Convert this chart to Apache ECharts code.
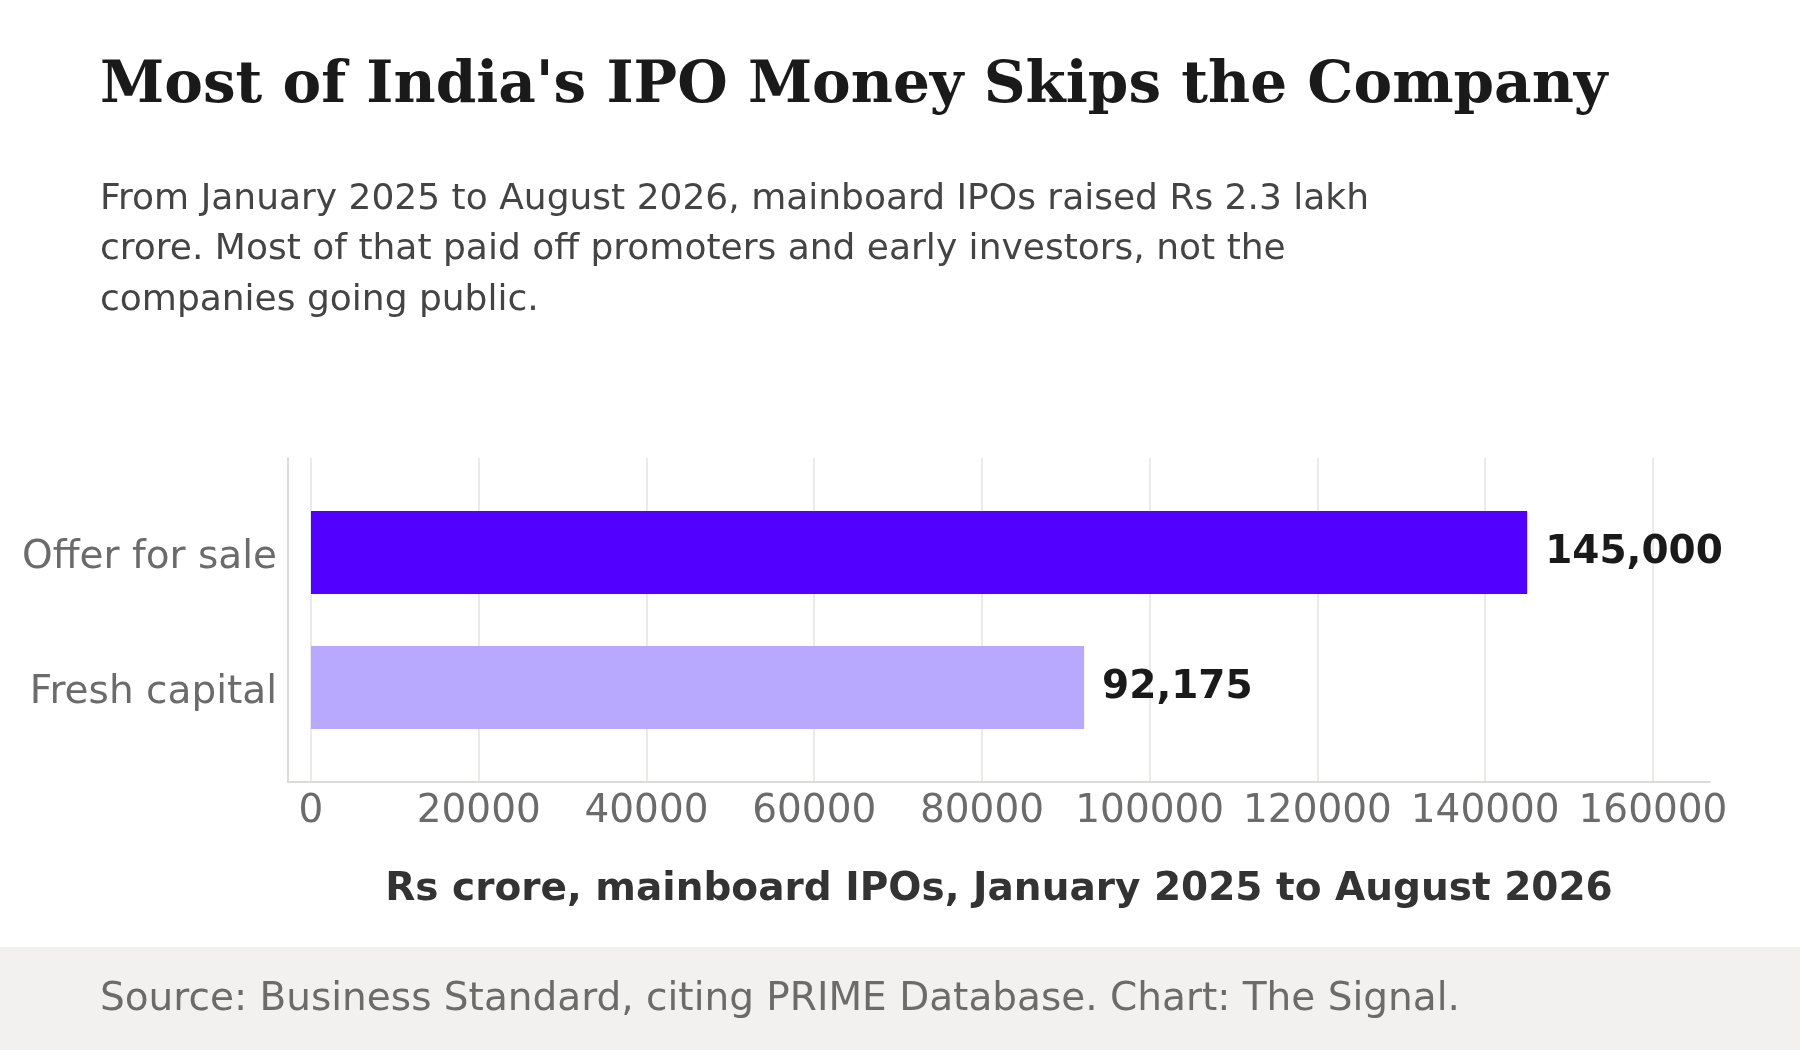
<!DOCTYPE html>
<html>
<head>
<meta charset="utf-8">
<script src="https://cdn.jsdelivr.net/npm/echarts@6/dist/echarts.min.js"></script>
<style>
  html, body { margin: 0; padding: 0; background: #ffffff; }
  #chart { width: 1800px; height: 1050px; }
</style>
</head>
<body>
<div id="chart"></div>
<script>
// y position 0 = bottom row, 1 = top row
const categories = ["Fresh capital", "Offer for sale"];
const values = [92175, 145000];
const barColors = ["#b8a9ff", "#5200ff"];
const tickValues = [0, 20000, 40000, 60000, 80000, 100000, 120000, 140000, 160000];

const sans = "DejaVu Sans";
const chart = echarts.init(document.getElementById("chart"), null, { renderer: "canvas" });

chart.setOption({
  animation: false,
  backgroundColor: "#ffffff",
  title: [
    {
      text: "Most of India's IPO Money Skips the Company",
      left: 100,
      top: 58,
      padding: 0,
      textStyle: { fontFamily: "DejaVu Serif", fontWeight: "bold", fontSize: 58, color: "#1a1a1a" }
    },
    {
      text: "From January 2025 to August 2026, mainboard IPOs raised Rs 2.3 lakh\ncrore. Most of that paid off promoters and early investors, not the\ncompanies going public.",
      left: 100,
      top: 174,
      padding: 0,
      textStyle: { fontFamily: sans, fontWeight: "normal", fontSize: 36, lineHeight: 50.5, color: "#444444" }
    },
    {
      text: "Source: Business Standard, citing PRIME Database. Chart: The Signal.",
      left: 100,
      top: 980,
      padding: 0,
      textStyle: { fontFamily: sans, fontWeight: "normal", fontSize: 39, color: "#6b6b6b" }
    }
  ],
  graphic: [
    {
      type: "rect",
      z: -10,
      shape: { x: 0, y: 947, width: 1800, height: 103 },
      style: { fill: "#f2f1f0" }
    }
  ],
  grid: { left: 288, right: 90, top: 458, bottom: 268 },
  xAxis: {
    type: "value",
    min: -2742,
    max: 166796,
    name: "Rs crore, mainboard IPOs, January 2025 to August 2026",
    nameLocation: "middle",
    nameGap: 88,
    nameTextStyle: { fontFamily: sans, fontWeight: "bold", fontSize: 39, color: "#333333" },
    axisLine: { show: true, onZero: false, lineStyle: { color: "#dcdbd7", width: 2 } },
    axisTick: { show: false, customValues: tickValues },
    axisLabel: {
      customValues: tickValues,
      margin: 10,
      fontFamily: sans,
      fontSize: 39,
      color: "#6b6b6b",
      formatter: (v) => String(v)
    },
    splitLine: { show: true, lineStyle: { color: "#e4e3e0", width: 1.5 } }
  },
  yAxis: {
    type: "value",
    min: -0.7,
    max: 1.7,
    axisLine: { show: true, onZero: false, lineStyle: { color: "#dcdbd7", width: 2 } },
    axisTick: { show: false, customValues: [0, 1] },
    axisLabel: {
      customValues: [0, 1],
      margin: 11,
      verticalAlign: "top",
      lineHeight: 10,
      fontFamily: sans,
      fontSize: 39,
      color: "#6b6b6b",
      formatter: (v) => categories[Math.round(v)] || ""
    },
    splitLine: { show: false }
  },
  series: [
    {
      type: "custom",
      encode: { x: 1, y: 0 },
      data: values.map((v, i) => [i, v]),
      renderItem(params, api) {
        const idx = api.value(0);
        const val = api.value(1);
        const start = api.coord([0, idx]);
        const end = api.coord([val, idx]);
        const h = api.size([0, 0.615])[1];
        return {
          type: "group",
          children: [
            {
              type: "rect",
              shape: { x: start[0], y: start[1] - h / 2, width: end[0] - start[0], height: h },
              style: { fill: barColors[idx] }
            },
            {
              type: "text",
              style: {
                x: end[0] + 18,
                y: end[1],
                text: val.toLocaleString("en-US"),
                textAlign: "left",
                textVerticalAlign: "middle",
                fill: "#1a1a1a",
                font: "bold 39px 'DejaVu Sans'"
              }
            }
          ]
        };
      }
    }
  ]
});
</script>
</body>
</html>
